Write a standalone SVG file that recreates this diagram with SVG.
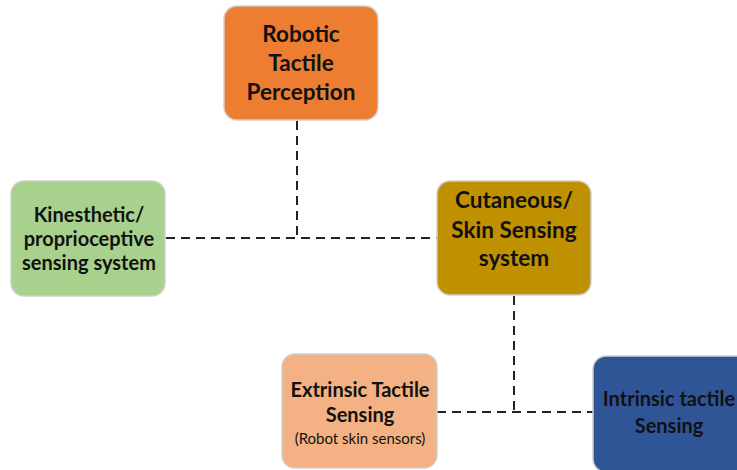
<svg xmlns="http://www.w3.org/2000/svg" width="737" height="470" viewBox="0 0 737 470">
<style>
.box{stroke:#d0d0d0;stroke-width:1.5}
.t{font-family:Lato,"Liberation Sans",sans-serif;font-weight:bold;fill:#111;text-anchor:middle}
.s{font-family:Lato,"Liberation Sans",sans-serif;font-weight:normal;fill:#111;text-anchor:middle}
.c{stroke:#222;stroke-width:2;stroke-dasharray:9,6;fill:none}
</style>
<rect width="737" height="470" fill="#fff"/>
<g id="connectors">
<path class="c" d="M297 121 V238"/>
<path class="c" d="M166 238 H437"/>
<path class="c" d="M514 296 V412"/>
<path class="c" d="M437 412 H593"/>
</g>
<g id="robotic">
<rect class="box" x="224" y="6" width="154" height="114" rx="13" fill="#ED7D31"/>
<text class="t" font-size="22.5" x="301" y="42">Robotic</text>
<text class="t" font-size="22.5" x="301" y="71">Tactile</text>
<text class="t" font-size="22.5" x="301" y="100">Perception</text>
</g>
<g id="kinesthetic">
<rect class="box" x="11" y="181" width="154" height="115" rx="13" fill="#A9D18E"/>
<text class="t" font-size="20" x="89" y="222">Kinesthetic/</text>
<text class="t" font-size="20" x="89" y="246">proprioceptive</text>
<text class="t" font-size="20" x="89" y="270">sensing system</text>
</g>
<g id="cutaneous">
<rect class="box" x="437" y="181" width="154" height="114" rx="13" fill="#BF9000"/>
<text class="t" font-size="22.5" x="514" y="208">Cutaneous/</text>
<text class="t" font-size="22.5" x="514" y="238">Skin Sensing</text>
<text class="t" font-size="22.5" x="514" y="266">system</text>
</g>
<g id="extrinsic">
<rect class="box" x="282" y="354" width="155" height="114" rx="13" fill="#F4B183"/>
<text class="t" font-size="20" x="360" y="397">Extrinsic Tactile</text>
<text class="t" font-size="20" x="360" y="422">Sensing</text>
<text class="s" font-size="15" x="360" y="444">(Robot skin sensors)</text>
</g>
<g id="intrinsic">
<rect class="box" x="593" y="356" width="156" height="116" rx="13" fill="#2F5597"/>
<text class="t" font-size="20" x="669" y="406">Intrinsic tactile</text>
<text class="t" font-size="20" x="669" y="433">Sensing</text>
</g>
</svg>
